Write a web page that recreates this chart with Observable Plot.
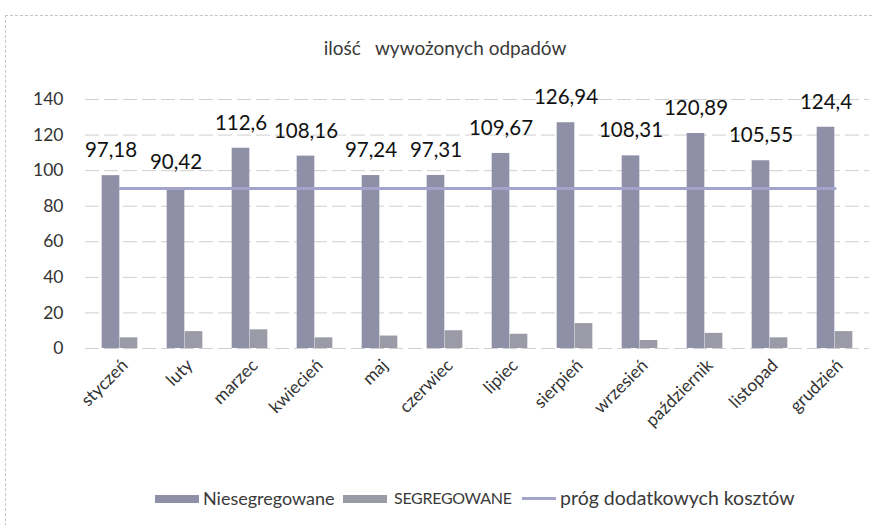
<!DOCTYPE html>
<html><head><meta charset="utf-8">
<script src="https://cdn.jsdelivr.net/npm/d3@7"></script>
<script src="https://cdn.jsdelivr.net/npm/@observablehq/plot@0.6"></script>
<style>
body{margin:0;background:#fff;font-family:Lato,"Open Sans",sans-serif;}
#wrap{position:relative;width:878px;height:525px;overflow:hidden;background:#fff;}
#frame{position:absolute;left:5px;top:15px;width:866px;height:520px;border-left:1px dashed #c4c4c4;border-top:1px dashed #c4c4c4;}
#title{position:absolute;top:36px;left:0;width:890px;text-align:center;font-size:19px;color:#3a3a3a;}
#chart{position:absolute;top:80px;left:0;}
.lg{position:absolute;top:488px;font-size:18px;color:#3a3a3a;white-space:nowrap;line-height:20px;}
.sw{position:absolute;top:495px;width:44px;height:8px;}
.ln{position:absolute;top:497px;width:34px;height:3px;}
</style></head>
<body>
<div id="wrap">
<div id="frame"></div>
<div id="title">ilość&nbsp;&nbsp; wywożonych odpadów</div>
<div id="chart"></div>
<span class="sw" style="left:155px;background:#8f8fa8"></span><span class="lg" style="left:203px">Niesegregowane</span>
<span class="sw" style="left:343px;background:#9b9ba8"></span><span class="lg" style="left:394px;font-size:16px;letter-spacing:-0.3px">SEGREGOWANE</span>
<span class="ln" style="left:522px;background:#a3a3cc"></span><span class="lg" style="left:560px;font-size:19.5px">próg dodatkowych kosztów</span>
</div>
<script>
const months = ["styczeń","luty","marzec","kwiecień","maj","czerwiec","lipiec","sierpień","wrzesień","październik","listopad","grudzień"];
const niesegregowane = [97.18,90.42,112.6,108.16,97.24,97.31,109.67,126.94,108.31,120.89,105.55,124.4];
const segregowane = [6,9.5,10.5,6,7,10,8,14,4.5,8.5,6,9.5];
const prog = 90;
const yTicks = [0,20,40,60,80,100,120,140];

const main = months.map((m,i)=>({m, v:niesegregowane[i], label: String(niesegregowane[i]).replace(".", ",")}));
const seg = months.map((m,i)=>({m, v:segregowane[i]}));
const line = months.map(m=>({m, v:prog}));

const W = 878, H = 350, ML = 85, MR = 9;
const band = (W-ML-MR)/months.length;
const bw = 18;
const outer = band/2 - bw;

const chart = Plot.plot({
  width: W, height: H,
  marginLeft: ML, marginRight: MR, marginTop: 19, marginBottom: 82,
  style: {fontFamily: "Lato, 'Open Sans', sans-serif", background: "transparent"},
  x: {domain: months, padding: 0, label: null, tickSize: 0},
  y: {domain: [0,140], ticks: yTicks, label: null, tickSize: 0},
  marks: [
    Plot.ruleY(yTicks, {stroke: "#cfcfcf", strokeWidth: 1, strokeDasharray: "14,5"}),
    Plot.barY(main, {x: "m", y: "v", fill: "#8f8fa8", insetLeft: outer, insetRight: band/2}),
    Plot.barY(seg, {x: "m", y: "v", fill: "#9b9ba8", insetLeft: band/2, insetRight: outer}),
    Plot.lineY(line, {x: "m", y: "v", stroke: "#a3a3cc", strokeWidth: 3}),
    Plot.text(main, {x: "m", y: "v", text: "label", dx: -bw/2, dy: -25, fontSize: 20.5, fill: "#111"}),
    Plot.axisY({ticks: yTicks, tickSize: 0, tickPadding: 22, fontSize: 17.5, fill: "#333", label: null}),
    Plot.axisX({tickSize: 0, tickRotate: -45, tickPadding: 14, dx: 5, fontSize: 17.5, fill: "#333", label: null})
  ]
});
document.getElementById("chart").appendChild(chart);
</script>
</body></html>
